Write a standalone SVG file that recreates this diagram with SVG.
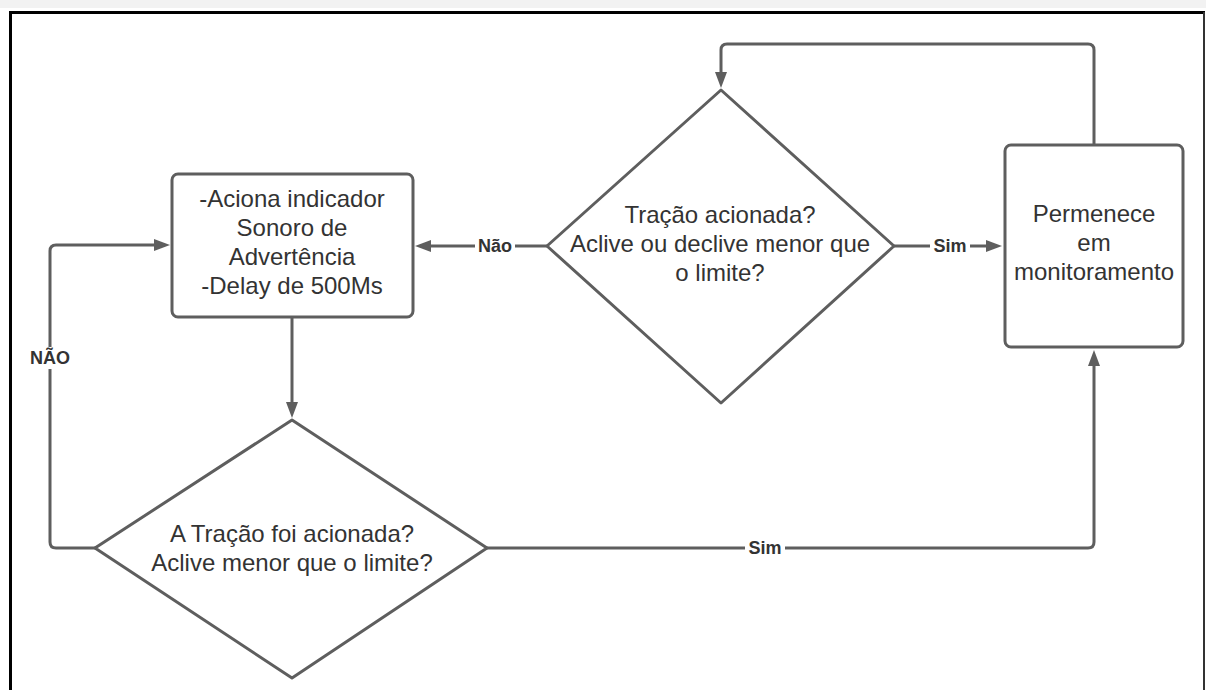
<svg xmlns="http://www.w3.org/2000/svg" width="1206" height="690" viewBox="0 0 1206 690">
<defs>
<style>
.shape{fill:#ffffff;stroke:#5e5e5e;stroke-width:3}
.conn{fill:none;stroke:#5e5e5e;stroke-width:3}
.t{font-family:"Liberation Sans",Arial,sans-serif;font-size:24px;fill:#333333;text-anchor:middle}
.lbl{font-family:"Liberation Sans",Arial,sans-serif;font-size:18px;font-weight:bold;fill:#333333;text-anchor:middle}
.lblbg{fill:#ffffff;stroke:none}
</style>
<marker id="arr" viewBox="0 0 16 12" refX="0" refY="6" markerWidth="16" markerHeight="12" markerUnits="userSpaceOnUse" orient="auto">
<path d="M0,0 L16,6 L0,12 z" fill="#5e5e5e"/>
</marker>
</defs>
<rect x="0" y="0" width="1206" height="690" fill="#ffffff"/>
<rect x="0" y="0" width="1206" height="8" fill="#f2f2f2"/>
<g id="frame">
<line x1="9" y1="12.5" x2="1205" y2="12.5" stroke="#000" stroke-width="3"/>
<line x1="10.5" y1="11" x2="10.5" y2="690" stroke="#000" stroke-width="3"/>
<line x1="1204" y1="12" x2="1204" y2="690" stroke="#333" stroke-width="2"/>
</g>
<g id="connectors">
<path class="conn" d="M1094,145 V50 Q1094,44 1088,44 H727 Q721,44 721,50 V72" marker-end="url(#arr)"/>
<path class="conn" d="M547,246 H431" marker-end="url(#arr)"/>
<path class="conn" d="M894,246 H986" marker-end="url(#arr)"/>
<path class="conn" d="M292,317 V402" marker-end="url(#arr)"/>
<path class="conn" d="M95,548 H56 Q50,548 50,542 V251 Q50,245 56,245 H154" marker-end="url(#arr)"/>
<path class="conn" d="M487,548 H1088 Q1094,548 1094,542 V366" marker-end="url(#arr)"/>
<g id="label-nao1"><rect class="lblbg" x="475" y="236" width="40" height="20"/><text class="lbl" x="495" y="252">Não</text></g>
<g id="label-sim1"><rect class="lblbg" x="930" y="236" width="40" height="20"/><text class="lbl" x="950" y="252">Sim</text></g>
<g id="label-nao2"><rect class="lblbg" x="25" y="347" width="50" height="22"/><text class="lbl" x="50" y="364">NÃO</text></g>
<g id="label-sim2"><rect class="lblbg" x="745" y="538" width="40" height="20"/><text class="lbl" x="765" y="554">Sim</text></g>
</g>
<g id="box-aciona">
<rect class="shape" x="172" y="174" width="241" height="143" rx="6"/>
<text class="t" x="292" y="207">-Aciona indicador</text>
<text class="t" x="292" y="236">Sonoro de</text>
<text class="t" x="292" y="265">Advertência</text>
<text class="t" x="292" y="294">-Delay de 500Ms</text>
</g>
<g id="decision-tracao">
<path class="shape" d="M721,90 L894,246 L721,403 L547,246 Z" stroke-linejoin="round"/>
<text class="t" x="720" y="223">Tração acionada?</text>
<text class="t" x="720" y="252">Aclive ou declive menor que</text>
<text class="t" x="720" y="281">o limite?</text>
</g>
<g id="box-monitoramento">
<rect class="shape" x="1005" y="145" width="178" height="202" rx="6"/>
<text class="t" x="1094" y="222">Permenece</text>
<text class="t" x="1094" y="251">em</text>
<text class="t" x="1094" y="280">monitoramento</text>
</g>
<g id="decision-tracao2">
<path class="shape" d="M292,420 L487,548 L292,678 L95,548 Z" stroke-linejoin="round"/>
<text class="t" x="292" y="542">A Tração foi acionada?</text>
<text class="t" x="292" y="571">Aclive menor que o limite?</text>
</g>
</svg>
